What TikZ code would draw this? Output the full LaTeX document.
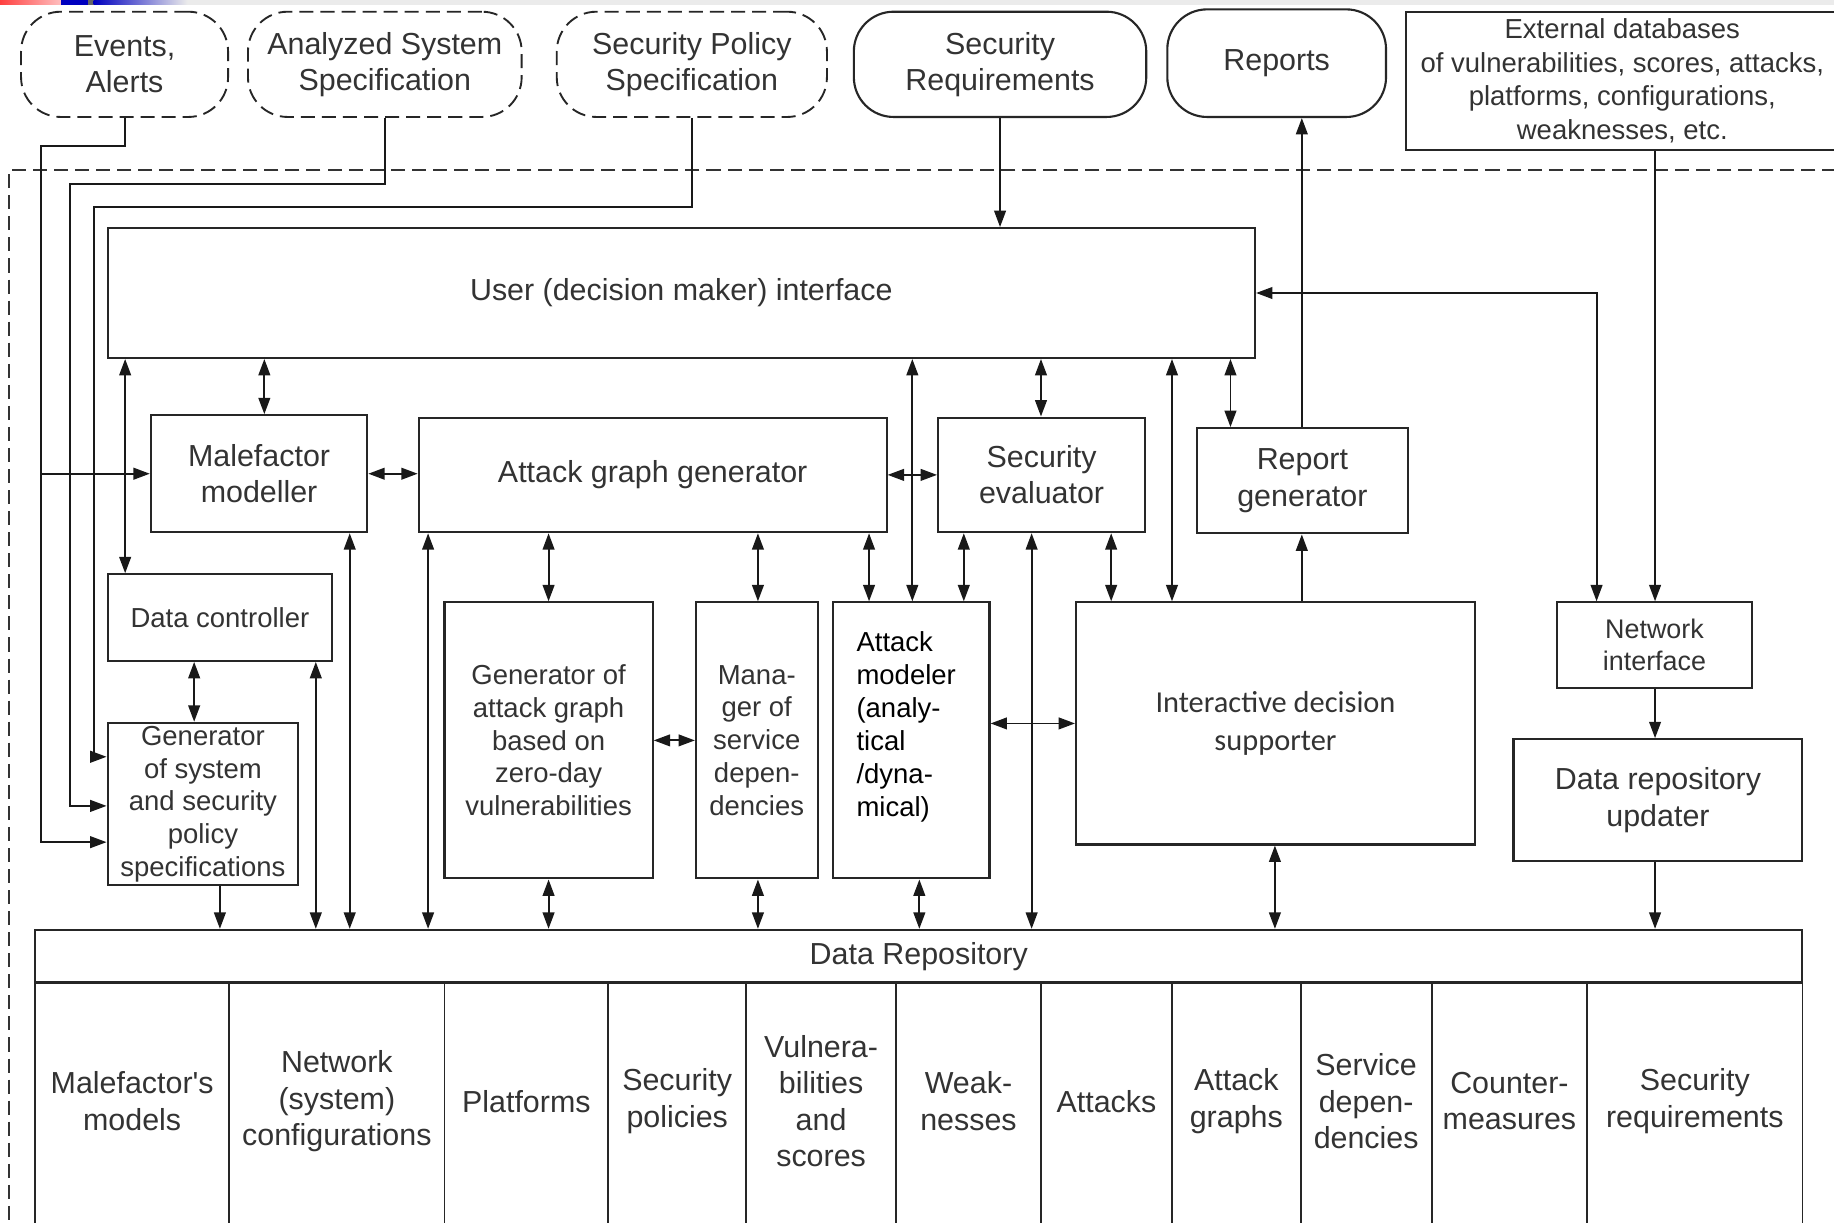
\documentclass[tikz,border=0pt]{standalone}
\usepackage{fontspec}
\setmainfont{Liberation Sans}
\newfontfamily\calfont{Carlito}
\usetikzlibrary{arrows.meta}

\begin{document}
\begin{tikzpicture}[x=1pt,y=-1pt,
  every node/.style={text=black!80},
  >={Triangle[length=14pt,width=10pt]},
  blk/.style={draw=black!85, line width=1.8pt, inner sep=0pt, align=center,
              font=\fontsize{26}{31}\selectfont},
  sblk/.style={blk, font=\fontsize{23.5}{28}\selectfont},
  term/.style={blk, rounded corners=34pt},
  dterm/.style={term, dash pattern=on 12pt off 6pt, line width=1.6pt},
  conn/.style={line width=1.6pt, draw=black!90},
  gridline/.style={line width=1.6pt, draw=black!85},
  cell/.style={inner sep=0pt, align=center, font=\fontsize{26}{31}\selectfont},
]
\useasboundingbox (0,0) rectangle (1568,1045);
\clip (0,0) rectangle (1568,1045);
\fill[white] (0,0) rectangle (1568,1045);

% header strip
\fill[black!8] (0,0) rectangle (1568,4);
\shade[left color=red!75, right color=red!25] (0,0) rectangle (52,4);
\fill[blue!75!black] (52,0) rectangle (75,4);
\fill[black!60] (75,0) rectangle (80,4);
\shade[left color=blue!75!black, right color=black!8] (80,0) rectangle (160,4);

% system boundary
\draw[line width=1.6pt, draw=black!80, dash pattern=on 12pt off 6pt]
  (1570,145) -- (8,145) -- (8,1050);

% external inputs and outputs
\node[dterm, minimum width=177pt, minimum height=90pt] (ev) at (106.5,55) {Events,\\Alerts};
\node[dterm, minimum width=234pt, minimum height=90pt] (asys) at (329,55) {Analyzed System\\Specification};
\node[dterm, minimum width=231pt, minimum height=90pt] (spol) at (591.5,55) {Security Policy\\Specification};
\node[term, minimum width=250pt, minimum height=90pt] (sreq) at (855,55) {Security\\Requirements};
\node[term, minimum width=187pt, minimum height=92pt] (rep) at (1091.5,54) {Reports};
\node[sblk, minimum width=370pt, minimum height=118pt, font=\fontsize{23.5}{28.7}\selectfont] (ext) at (1387,69)
  {External databases\\of vulnerabilities, scores, attacks,\\platforms, configurations,\\weaknesses, etc.};

% components
\node[blk, minimum width=981pt, minimum height=111pt] (ui) at (582.5,250.5) {User (decision maker) interface};
\node[blk, minimum width=185pt, minimum height=100pt] (mal) at (221.5,405) {Malefactor\\modeller};
\node[blk, minimum width=400pt, minimum height=98pt] (agg) at (558,406) {Attack graph generator};
\node[blk, minimum width=177pt, minimum height=98pt] (sev) at (890.5,406) {Security\\evaluator};
\node[blk, minimum width=181pt, minimum height=90pt] (rgen) at (1113.5,411) {Report\\generator};
\node[sblk, minimum width=192pt, minimum height=74pt] (dctl) at (188,528) {Data controller};
\node[sblk, minimum width=163pt, minimum height=139pt] (gsys) at (173.5,687.5)
  {Generator\\of system\\and security\\policy\\specifications};
\node[sblk, minimum width=178pt, minimum height=236pt] (gzd) at (469,633)
  {Generator of\\attack graph\\based on\\zero-day\\vulnerabilities};
\node[sblk, minimum width=104pt, minimum height=236pt] (msd) at (647,633)
  {Mana-\\ger of\\service\\depen-\\dencies};
\node[blk, minimum width=134pt, minimum height=236pt] (amod) at (779,633) {};
\node[anchor=north west, inner sep=0pt, align=left, text=black,
      font=\fontsize{23.5}{28.2}\selectfont] (amodtxt) at ([xshift=21pt,yshift=-26pt]amod.north west)
  {Attack\\modeler\\(analy-\\tical\\/dyna-\\mical)};
\node[blk, minimum width=341pt, minimum height=207pt, font=\calfont\fontsize{26}{32}\selectfont] (ids) at (1090.5,618.5)
  {Interactive decision\\supporter};
\node[blk, minimum width=167pt, minimum height=73pt, font=\fontsize{23}{27}\selectfont] (nif) at (1414.5,551.5)
  {Network\\interface};
\node[blk, minimum width=247pt, minimum height=104pt] (dru) at (1417.5,684) {Data repository\\updater};

% data repository and its sections
\node[blk, minimum width=1511pt, minimum height=45pt] (repo) at (785.5,817.5) {Data Repository};
\foreach \x in {30,196,380,520,638,766,890,1002,1112,1224,1357,1541}
  \draw[gridline] (\x,840) -- (\x,1070);
\node[cell] (s1) at (113,941.5) {Malefactor\textquotesingle s\\models};
\node[cell] (s2) at (288,941.5) {Network\\(system)\\configurations};
\node[cell] (s3) at (450,941.5) {Platforms};
\node[cell] (s4) at (579,941.5) {Security\\policies};
\node[cell] (s5) at (702,941.5) {Vulnera-\\bilities\\and\\scores};
\node[cell] (s6) at (828,941.5) {Weak-\\nesses};
\node[cell] (s7) at (946,941.5) {Attacks};
\node[cell] (s8) at (1057,941.5) {Attack\\graphs};
\node[cell] (s9) at (1168,941.5) {Service\\depen-\\dencies};
\node[cell] (s10) at (1290.5,941.5) {Counter-\\measures};
\node[cell] (s11) at (1449,941.5) {Security\\requirements};

% connector columns
\foreach \x in {107,166,188,226,270,299,366,469,648,743,780,786,824,882,890,950,1002,1052,1090,1113,1365,1415}
  \coordinate (k\x) at (\x,0);
\coordinate (evb) at (35,125);
\coordinate (asb) at (60,157);
\coordinate (spb) at (80,177);

% inputs into the generator of specifications and the malefactor modeller
\draw[conn,->] (ev.south) |- (evb) |- ([yshift=-32.5pt]gsys.west);
\draw[conn,->] (evb |- mal.west) -- (mal.west);
\draw[conn,->] (asys.south) |- (asb) |- ([yshift=-1.5pt]gsys.west);
\draw[conn,->] (spol.south) |- (spb) |- ([yshift=40.5pt]gsys.west);

% one-way links
\draw[conn,->] (sreq.south) -- (sreq.south |- ui.north);
\draw[conn,->] (rgen.north -| k1113) -- (rep.south -| k1113);
\draw[conn,->] (ext.south -| k1415) -- (nif.north -| k1415);
\draw[conn,->] (ids.north -| k1113) -- (rgen.south -| k1113);
\draw[conn,->] (gsys.south -| k188) -- (repo.north -| k188);
\draw[conn,->] (nif.south -| k1415) -- (dru.north -| k1415);
\draw[conn,->] (dru.south -| k1415) -- (repo.north -| k1415);

% two-way links
\draw[conn,<->] (ui.east) -| (nif.north -| k1365);
\draw[conn,<->] (ui.south -| k107) -- (dctl.north -| k107);
\draw[conn,<->] (ui.south -| k226) -- (mal.north -| k226);
\draw[conn,<->] (ui.south -| k780) -- (amod.north -| k780);
\draw[conn,<->] (ui.south -| k890) -- (sev.north -| k890);
\draw[conn,<->] (ui.south -| k1002) -- (ids.north -| k1002);
\draw[conn,<->] (ui.south -| k1052) -- (rgen.north -| k1052);
\draw[conn,<->] (mal.south -| k299) -- (repo.north -| k299);
\draw[conn,<->] (dctl.south -| k270) -- (repo.north -| k270);
\draw[conn,<->] (dctl.south -| k166) -- (gsys.north -| k166);
\draw[conn,<->] (agg.south -| k366) -- (repo.north -| k366);
\draw[conn,<->] (agg.south -| k469) -- (gzd.north -| k469);
\draw[conn,<->] (agg.south -| k648) -- (msd.north -| k648);
\draw[conn,<->] (agg.south -| k743) -- (amod.north -| k743);
\draw[conn,<->] (gzd.south -| k469) -- (repo.north -| k469);
\draw[conn,<->] (msd.south -| k648) -- (repo.north -| k648);
\draw[conn,<->] (amod.south -| k786) -- (repo.north -| k786);
\draw[conn,<->] (sev.south -| k824) -- (amod.north -| k824);
\draw[conn,<->] (sev.south -| k882) -- (repo.north -| k882);
\draw[conn,<->] (sev.south -| k950) -- (ids.north -| k950);
\draw[conn,<->] (ids.south -| k1090) -- (repo.north -| k1090);
\draw[conn,<->] (mal.east) -- (mal.east -| agg.west);
\draw[conn,<->] (agg.east) -- (agg.east -| sev.west);
\draw[conn,<->] (gzd.east) -- (gzd.east -| msd.west);
\draw[conn,<->] (amod.east |- ids.west) -- (ids.west);
\end{tikzpicture}
\end{document}
